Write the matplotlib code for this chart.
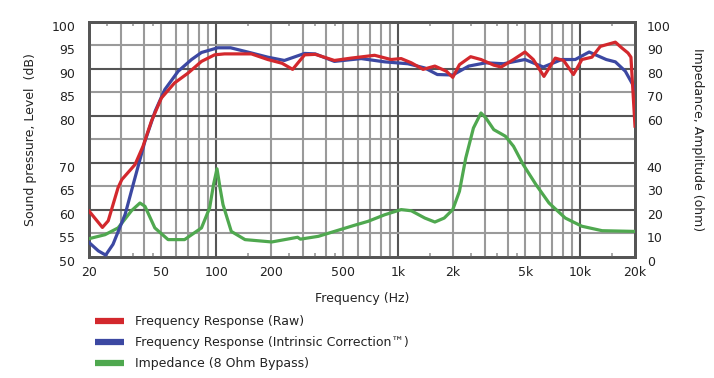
import matplotlib
matplotlib.use("Agg")
import matplotlib.pyplot as plt
import matplotlib.transforms as mtransforms
from matplotlib.lines import Line2D

# ---------------- data ----------------
freq_raw = [20, 23.7, 25.5, 28.9, 30.3, 35.8, 39.6, 44.1, 50, 59, 70, 83, 98, 111,
            156, 192, 230, 263, 306, 350, 446, 551, 742, 913, 1038, 1180, 1370, 1590,
            1840, 1994, 2170, 2500, 2850, 3350, 3680, 4300, 4970, 5520, 6320, 7290,
            8100, 9180, 10220, 11600, 12900, 15600, 16900, 18300, 19000, 20000]
spl_raw = [59.7, 56.2, 57.6, 64.7, 66.4, 69.6, 73.5, 78.9, 83.8, 87.0, 89.1, 91.6, 93.0, 93.2,
           93.2, 92.0, 91.2, 89.9, 93.0, 93.1, 91.8, 92.3, 92.9, 92.0, 92.2, 91.3, 89.9, 90.6,
           89.5, 88.2, 90.9, 92.6, 92.0, 90.8, 90.4, 92.0, 93.6, 92.0, 88.4, 92.3,
           91.8, 88.8, 92.0, 92.5, 94.8, 95.7, 94.5, 93.4, 92.5, 77.8]

freq_corr = [20, 22.5, 24.7, 27.1, 31.6, 35.8, 40.6, 46.2, 52.2, 61.8, 73.2, 83, 102, 120,
             156, 192, 237, 306, 350, 446, 626, 843, 1130, 1400, 1640, 1994, 2440, 3030,
             3790, 4970, 6270, 7920, 9390, 11200, 13900, 15600, 17700, 20000]
spl_corr = [53.0, 51.2, 50.3, 52.6, 59.0, 66.8, 74.6, 81.0, 85.6, 89.5, 92.0, 93.5, 94.5, 94.5,
            93.4, 92.5, 91.8, 93.3, 93.2, 91.6, 92.2, 91.5, 91.1, 90.2, 88.8, 88.7, 90.6, 91.3,
            91.1, 92.0, 90.4, 92.0, 92.0, 93.6, 92.0, 91.5, 89.5, 85.8]

freq_imp = [20, 24.5, 28.9, 34.3, 38.1, 40.6, 46, 54.4, 67, 83, 92, 96.6, 101, 105, 109, 121,
            144, 202, 280, 290, 364, 446, 574, 683, 843, 1038, 1180, 1400, 1590, 1790,
            1994, 2170, 2350, 2590, 2850, 3030, 3350, 3880, 4300, 4860, 5720, 6740,
            8280, 10220, 13200, 20000]
imp_ohm = [7.6, 9.3, 12.2, 19.6, 22.8, 21.4, 12.2, 7.2, 7.2, 12.2, 20.7, 30.6, 37.4, 29.2, 22.1, 10.7,
           7.2, 6.2, 8.2, 7.4, 8.6, 10.7, 13.3, 15.0, 17.8, 20.0, 19.5, 16.4, 14.7, 16.4,
           20.0, 27.8, 42.0, 54.8, 61.2, 59.1, 54.1, 51.3, 47.0, 39.2, 30.6, 22.8,
           16.4, 12.9, 11.0, 10.7]

x_ticks = [20, 50, 100, 200, 500, 1000, 2000, 5000, 10000, 20000]
x_ticklabels = ["20", "50", "100", "200", "500", "1k", "2k", "5k", "10k", "20k"]
x_grid = [30, 40, 50, 60, 70, 80, 90, 100, 200, 300, 400, 500, 600, 700, 800, 900,
          1000, 2000, 3000, 4000, 5000, 6000, 7000, 8000, 9000, 10000]
x_grid_major = [100, 1000, 10000]
x_minor_ticks = [25, 35, 45, 150, 250, 350, 450, 1500, 2500, 3500, 4500, 15000]

y_left_ticks = [50, 55, 60, 65, 70, 75, 80, 85, 90, 95, 100]
y_left_labels = ["50", "55", "60", "65", "70", "", "80", "85", "90", "95", "100"]
y_right_ticks = [0, 10, 20, 30, 40, 50, 60, 70, 80, 90, 100]
y_right_labels = ["0", "10", "20", "30", "40", "", "60", "70", "80", "90", "100"]
y_grid_major = [60, 70, 80, 90]

series_labels = ["Frequency Response (Raw)",
                 "Frequency Response (Intrinsic Correction\u2122)",
                 "Impedance (8 Ohm Bypass)"]

# ---------------- style ----------------
RED = "#d3282d"
BLUE = "#3c48a2"
GREEN = "#4fa84f"
DARK = "#555555"
LIGHT = "#9a9a9a"
TXT = "#222222"

plt.rcParams["font.family"] = ["DejaVu Sans"]

fig = plt.figure(figsize=(7.14, 3.78), dpi=100)
ax = fig.add_axes([89 / 714, 1 - 256.5 / 378, (635 - 89) / 714, (256.5 - 22) / 378])
ax2 = ax.twinx()

ax.set_xscale("log")
ax.set_xlim(20, 20000)
ax.set_ylim(50, 100)
ax2.set_ylim(0, 100)
ax.set_zorder(ax2.get_zorder() + 1)
ax.patch.set_visible(False)

# grid
for v in x_grid:
    ax.axvline(v, color=DARK if v in x_grid_major else LIGHT, lw=1.5, zorder=1)
for v in y_left_ticks[1:-1]:
    ax.axhline(v, color=DARK if v in y_grid_major else LIGHT, lw=1.5, zorder=1)

# curves (impedance uses the right-hand scale but is drawn above the grid)
imp_trans = mtransforms.blended_transform_factory(ax.transData, ax2.transData)
ax.plot(freq_imp, imp_ohm, color=GREEN, lw=2.3, zorder=3, solid_joinstyle="round",
        transform=imp_trans)
ax.plot(freq_corr, spl_corr, color=BLUE, lw=2.3, zorder=4, solid_joinstyle="round")
ax.plot(freq_raw, spl_raw, color=RED, lw=2.3, zorder=5, solid_joinstyle="round")

for a in (ax, ax2):
    for s in a.spines.values():
        s.set_color(DARK)
        s.set_linewidth(2.0)

# ticks
ax.set_xticks(x_ticks)
ax.set_xticklabels(x_ticklabels)
ax.set_xticks(x_minor_ticks, minor=True)
ax.xaxis.set_minor_formatter(matplotlib.ticker.NullFormatter())
ax.tick_params(axis="x", which="major", length=0, pad=7, labelsize=9, labelcolor=TXT)
ax.tick_params(axis="x", which="minor", direction="in", length=3, width=1.2,
               color=LIGHT, top=True, bottom=True)

ax.set_yticks(y_left_ticks)
ax.set_yticklabels(y_left_labels)
ax.tick_params(axis="y", length=0, pad=10, labelsize=9, labelcolor=TXT)
ax2.set_yticks(y_right_ticks)
ax2.set_yticklabels(y_right_labels)
ax2.tick_params(axis="y", length=0, pad=8.5, labelsize=9, labelcolor=TXT)

off = mtransforms.ScaledTranslation(0, -4 / 100, fig.dpi_scale_trans)
for lab in ax.get_yticklabels() + ax2.get_yticklabels():
    lab.set_transform(lab.get_transform() + off)

ax.set_xlabel("Frequency (Hz)", fontsize=9, color=TXT, labelpad=9)
ax.set_ylabel("Sound pressure, Level  (dB)", fontsize=9, color=TXT, labelpad=10)
ax2.set_ylabel("Impedance, Amplitude (ohm)", fontsize=9, color=TXT, rotation=-90,
               labelpad=24)

handles = [Line2D([], [], color=c, lw=4.5, solid_capstyle="butt") for c in (RED, BLUE, GREEN)]
fig.legend(handles=handles, labels=series_labels, loc="upper left",
           bbox_to_anchor=(84 / 714, 1 - 304 / 378), frameon=False, fontsize=9,
           handlelength=2.3, handletextpad=0.9, labelspacing=0.65, labelcolor=TXT)

fig.savefig("out.png", dpi=100)
